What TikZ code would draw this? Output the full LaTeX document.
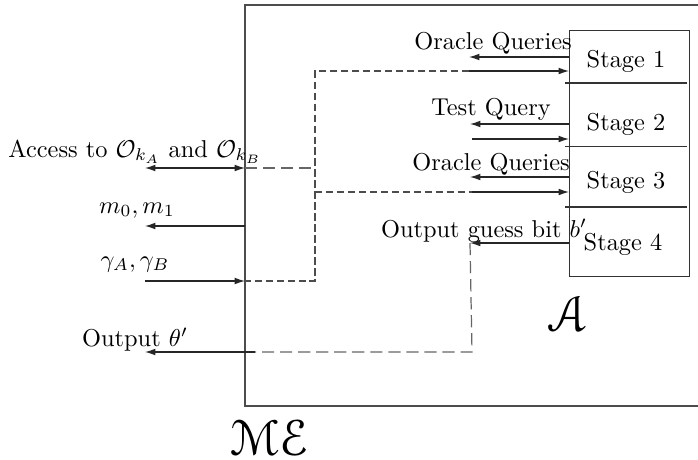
\documentclass[tikz,border=0pt]{standalone}
\usepackage{amsmath}
\usepackage[mathscr]{eucal}
\usetikzlibrary{arrows.meta}
\tikzset{
  frame/.style={draw=black!70, line width=0.5pt},
  stagebox/.style={draw=black!80, line width=0.45pt},
  tip/.tip={Latex[length=4.3pt,width=2.8pt]},
  arr/.style={draw=black!85, line width=0.45pt, -tip},
  dbl/.style={draw=black!85, line width=0.45pt, tip-tip},
  plain/.style={draw=black!85, line width=0.45pt},
  sdash/.style={draw=black!70, line width=0.45pt, dash pattern=on 3pt off 1.5pt},
  ldash/.style={draw=black!60, line width=0.5pt, dash pattern=on 5pt off 2.4pt},
  lbl/.style={inner sep=0pt, anchor=base},
}
\begin{document}
\begin{tikzpicture}[x=0.41pt, y=-0.41pt]
\useasboundingbox (0,0) rectangle (698,459);

% outer frame of the experiment (runs off to the right)
\draw[frame] (700,5) -- (245,5) -- (245,406) -- (700,406);

% adversary's stage box and dividers
\node[stagebox, minimum width=49.2pt, minimum height=100.9pt, inner sep=0pt, anchor=north west] (adv) at (569,30) {};
\draw[stagebox] (565,83) -- (687,83);
\draw[stagebox] (565,146.5) -- (687,146.5);
\draw[stagebox] (565,207) -- (687,207);

\node[lbl] (st1) at (626,67) {Stage 1};
\node[lbl] (st2) at (626,130) {Stage 2};
\node[lbl] (st3) at (626,188) {Stage 3};
\node[lbl] (st4) at (623,250) {Stage 4};

% coordinates on the left edge of the stage box
\coordinate (a1o) at (569,57);
\coordinate (a1i) at (569,71);
\coordinate (a2o) at (569,124);
\coordinate (a2i) at (569,139);
\coordinate (a3o) at (569,177);
\coordinate (a3i) at (569,192);
\coordinate (a4o) at (569,243);

% inner ends of the adversary arrows
\coordinate (e1o) at (469,57);
\coordinate (e1i) at (469,71);
\coordinate (e2o) at (470,124);
\coordinate (e2i) at (472,139);
\coordinate (e3o) at (470,177);
\coordinate (e3i) at (472,192);
\coordinate (e4o) at (470,243);

% routing points of the dashed wiring
\coordinate (r1) at (315,71);
\coordinate (r3) at (315,192);
\coordinate (racc) at (315,168);
\coordinate (rgam) at (315,281);
\coordinate (rout) at (472,352);

% points on the frame's left edge
\coordinate (facc) at (245,168);
\coordinate (fm) at (245,226);
\coordinate (fgam) at (245,281);
\coordinate (fout) at (255,352);
\coordinate (foutd) at (245,352);

% outer ends of the interface arrows
\coordinate (lacc) at (145,168);
\coordinate (lm) at (145,226);
\coordinate (lgam) at (145,281);
\coordinate (lout) at (145,352);

% adversary query arrows
\draw[arr] (a1o) -- (e1o);
\draw[arr] (e1i) -- (a1i);
\draw[arr] (a2o) -- (e2o);
\draw[arr] (e2i) -- (a2i);
\draw[arr] (a3o) -- (e3o);
\draw[arr] (e3i) -- (a3i);
\draw[arr] (a4o) -- (e4o);

\node[lbl] (q1) at (493,49) {Oracle Queries};
\node[lbl] (tq) at (491,115) {Test Query};
\node[lbl] (q3) at (491,170) {Oracle Queries};
\node[lbl] (og) at (484,237) {Output guess bit $b'$};

% dashed wiring inside the frame
\draw[sdash] (e1i) -- (r1) -- (rgam) -- (fgam);
\draw[sdash] (r3) -- (e3i);
\draw[ldash] (facc) -- (racc);
\draw[ldash] (e4o) -- (rout) -- (foutd);

% interface arrows of the experiment
\draw[dbl] (lacc) -- (facc);
\draw[arr] (fm) -- (lm);
\draw[arr] (lgam) -- (fgam);
\draw[arr] (fout) -- (lout);

\node[lbl] (acc) at (135,157) {Access to $\mathcal{O}_{k_A}$ and $\mathcal{O}_{k_B}$};
\node[lbl] (mm) at (137,213) {$m_0, m_1$};
\node[lbl] (gg) at (135,267) {$\gamma_A, \gamma_B$};
\node[lbl] (ot) at (135,346) {Output $\theta'$};

% names of the two parties
\node[inner sep=0pt] (advname) at (568,314) {\huge$\mathscr{A}$};
\node[inner sep=0pt] (expname) at (270,438) {\huge$\mathscr{ME}$};
\end{tikzpicture}
\end{document}
